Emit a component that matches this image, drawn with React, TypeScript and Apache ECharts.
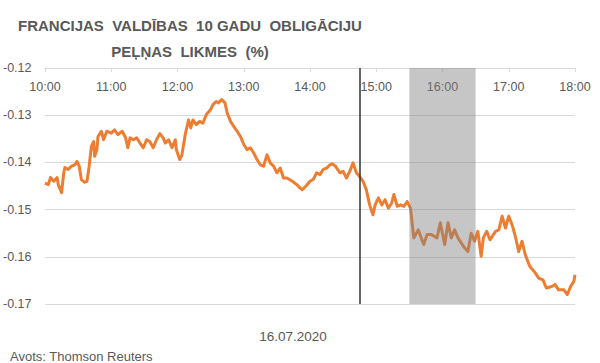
import React, { useEffect, useRef } from "react";
import * as echarts from "echarts";

// minutes after 10:00
const minutes = [
  0, 3, 5, 8, 11, 12, 15, 17, 18, 21, 24, 27, 29, 31, 33, 36, 38, 40, 42, 44, 45, 47, 48, 51, 53, 56,
  60, 63, 66, 70, 73, 75, 77, 80, 83, 86, 89, 92, 95, 98, 101, 104, 107, 109, 112, 115, 118, 119,
  122, 124, 127, 130, 132, 134, 137, 140, 143, 146, 150, 152, 155, 157, 160, 163, 165, 168, 171,
  174, 177, 180, 183, 186, 189, 192, 195, 198, 201, 204, 207, 210, 213, 216, 219, 224, 228, 231,
  233, 236, 240, 243, 246, 249, 252, 255, 258, 260, 263, 267, 270, 273, 276, 279, 282, 285, 288,
  291, 294, 297, 299, 302, 305, 308, 311, 314, 316, 319, 322, 325, 328, 331, 334, 338, 343, 346,
  350, 355, 358, 362, 365, 368, 371, 374, 379, 383, 386, 389, 392, 395, 397, 400, 403, 408, 411,
  414, 417, 420, 423, 426, 429, 432, 435, 439, 444, 447, 451, 454, 459, 462, 465, 470, 473, 476,
  479, 480,
];

const yields = [
  -0.1444, -0.1447, -0.1432, -0.144, -0.1432, -0.1447, -0.1464, -0.1422, -0.1411, -0.1415, -0.1408,
  -0.1405, -0.1398, -0.1408, -0.1437, -0.1442, -0.144, -0.1408, -0.1366, -0.1356, -0.1387, -0.1373,
  -0.1345, -0.1334, -0.1352, -0.1334,
  -0.1338, -0.1331, -0.1341, -0.1334, -0.1348, -0.1369, -0.1348, -0.1352, -0.1348, -0.1359, -0.1369,
  -0.1352, -0.1356, -0.1369, -0.1352, -0.1339, -0.1348, -0.1359, -0.1352, -0.1369, -0.1352, -0.1373,
  -0.1394, -0.1384, -0.1341, -0.131, -0.1327, -0.131, -0.132, -0.1313, -0.1317, -0.1299, -0.1288,
  -0.1278, -0.1271, -0.1274, -0.1267, -0.1274, -0.1295, -0.1313, -0.1324,
  -0.1334, -0.1345, -0.1362, -0.1373, -0.1369, -0.138, -0.1394, -0.1405, -0.1408, -0.1384, -0.1401,
  -0.1408, -0.1422, -0.1412, -0.1433, -0.1433, -0.144, -0.1447, -0.1454,
  -0.1458, -0.1451, -0.144, -0.1436, -0.1422, -0.1426, -0.1415, -0.1412, -0.1405, -0.1403, -0.1408,
  -0.1422, -0.1419, -0.1433, -0.1419, -0.1401, -0.1422, -0.143, -0.144,
  -0.1458, -0.149, -0.1511, -0.149, -0.1475, -0.149, -0.1479, -0.1497, -0.1486, -0.1468, -0.1493,
  -0.149, -0.1493, -0.1483, -0.1497, -0.156, -0.1543, -0.1574, -0.1553,
  -0.1553, -0.156, -0.1528, -0.1574, -0.1528, -0.156, -0.1543, -0.156, -0.1578, -0.1589, -0.155,
  -0.1567, -0.1546, -0.1599, -0.156, -0.1546, -0.1564, -0.1546, -0.1543,
  -0.1514, -0.1539, -0.1514, -0.1532, -0.1557, -0.1589, -0.1567, -0.1596, -0.162, -0.1634, -0.1645,
  -0.1649, -0.1666, -0.1663, -0.1659, -0.167, -0.167, -0.168, -0.1663,
  -0.1652, -0.1638,
];

const hourLabels = ["10:00", "11:00", "12:00", "13:00", "14:00", "15:00", "16:00", "17:00", "18:00"];
const yTicks = { min: -0.17, max: -0.12, step: 0.01 };
const markerMinute = 285; // 14:45
const bandMinutes = [330, 390]; // 15:30 - 16:30

const titleLine1 = "FRANCIJAS  VALDĪBAS  10 GADU  OBLIGĀCIJU";
const titleLine2 = "PEĻŅAS  LIKMES  (%)";
const dateText = "16.07.2020";
const sourceText = "Avots: Thomson Reuters";

export default function App() {
  const ref = useRef<HTMLDivElement>(null);
  useEffect(() => {
    if (!ref.current) return;
    const chart = echarts.init(ref.current, null, { renderer: "svg" });
    const data = minutes.map((m, i) => [m, yields[i]]);
    const gray = "#595959";
    const font = "'Liberation Sans', Arial, sans-serif";
    chart.setOption({
      animation: false,
      backgroundColor: "#ffffff",
      grid: { left: 45, right: 25, top: 68, bottom: 59, containLabel: false },
      xAxis: {
        type: "value",
        position: "top",
        min: 0,
        max: 480,
        interval: 60,
        axisLine: { show: true, lineStyle: { color: "#d9d9d9", width: 1 } },
        axisTick: { show: true, inside: true, length: 4, lineStyle: { color: "#d9d9d9" } },
        axisLabel: {
          inside: true,
          margin: 12,
          color: gray,
          fontSize: 12.5,
          fontFamily: font,
          formatter: (v: number) => hourLabels[Math.round(v / 60)] ?? "",
        },
        splitLine: { show: false },
      },
      yAxis: {
        type: "value",
        min: yTicks.min,
        max: yTicks.max,
        interval: yTicks.step,
        axisLine: { show: false },
        axisTick: { show: false },
        axisLabel: {
          color: gray,
          fontSize: 12.5,
          fontFamily: font,
          align: "left",
          margin: 42,
          formatter: (v: number) => v.toFixed(2),
        },
        splitLine: { lineStyle: { color: "#d9d9d9", width: 1 } },
      },
      series: [
        {
          type: "line",
          data,
          showSymbol: false,
          symbol: "none",
          z: 2,
          lineStyle: { color: "#ED7D31", width: 3, join: "round" },
          markLine: {
            silent: true,
            symbol: ["none", "none"],
            label: { show: false },
            lineStyle: { color: "#333333", width: 1.5, type: "solid" },
            data: [{ xAxis: markerMinute }],
          },
        },
        {
          type: "line",
          data,
          showSymbol: false,
          symbol: "none",
          silent: true,
          z: 4,
          lineStyle: { opacity: 0, width: 0 },
          markArea: {
            silent: true,
            z: 4,
            itemStyle: { color: "rgba(128,128,128,0.45)" },
            data: [[{ xAxis: bandMinutes[0] }, { xAxis: bandMinutes[1] }]],
          },
        },
      ],
      graphic: [
        {
          type: "text",
          x: 190,
          y: 25,
          style: {
            text: titleLine1,
            fill: gray,
            font: `bold 15px ${font}`,
            textAlign: "center",
            textVerticalAlign: "middle",
          },
        },
        {
          type: "text",
          x: 190,
          y: 51,
          style: {
            text: titleLine2,
            fill: gray,
            font: `bold 15px ${font}`,
            textAlign: "center",
            textVerticalAlign: "middle",
          },
        },
        {
          type: "text",
          x: 293,
          y: 336,
          style: {
            text: dateText,
            fill: gray,
            font: `13.5px ${font}`,
            textAlign: "center",
            textVerticalAlign: "middle",
          },
        },
        {
          type: "text",
          x: 10,
          y: 356,
          style: {
            text: sourceText,
            fill: gray,
            font: `13px ${font}`,
            textAlign: "left",
            textVerticalAlign: "middle",
          },
        },
      ],
    });
    return () => chart.dispose();
  }, []);
  return (
    <div
      ref={ref}
      style={{ position: "fixed", left: 0, top: 0, width: 600, height: 363 }}
    />
  );
}
